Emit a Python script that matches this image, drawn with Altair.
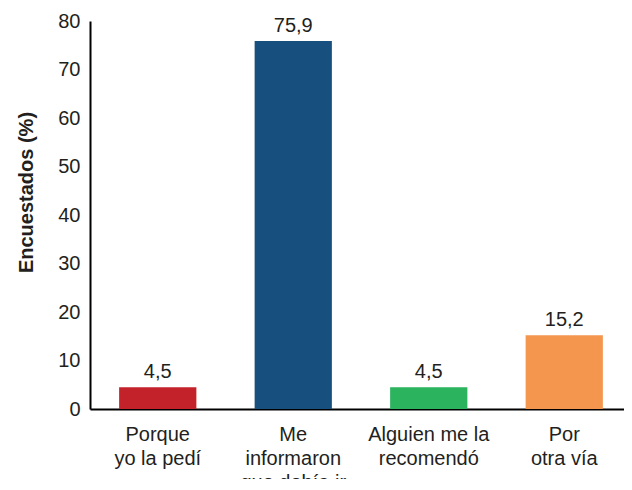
import altair as alt
import pandas as pd

categories = ["Porque\nyo la pedí", "Me\ninformaron\nque debía ir", "Alguien me la\nrecomendó", "Por\notra vía"]
values = [4.5, 75.9, 4.5, 15.2]
value_labels = ["4,5", "75,9", "4,5", "15,2"]
colors = ["#c3222a", "#17507f", "#2bb35d", "#f5964f"]
y_ticks = [0, 10, 20, 30, 40, 50, 60, 70, 80]

df = pd.DataFrame({"cat": categories, "val": values, "lab": value_labels})

FONT = "Liberation Sans"
TXT = "#231f20"

x = alt.X(
    "cat:N",
    sort=categories,
    scale=alt.Scale(paddingInner=0.43, paddingOuter=0.215, range=[0, 542]),
    axis=alt.Axis(
        title=None,
        labelAngle=0,
        labelExpr="split(datum.label, '\\n')",
        labelFont=FONT,
        labelFontSize=20,
        labelColor=TXT,
        labelLineHeight=24,
        labelPadding=15,
        ticks=False,
        tickSize=0,
        domainColor="#000000",
        domainWidth=2,
        labelLimit=300,
    ),
)

bars = alt.Chart(df).mark_bar().encode(
    x=x,
    y=alt.Y(
        "val:Q",
        scale=alt.Scale(domain=[0, 80], nice=False),
        axis=alt.Axis(
            title="Encuestados (%)",
            values=y_ticks,
            grid=False,
            ticks=False,
            tickSize=0,
            labelFont=FONT,
            labelFontSize=20,
            labelColor=TXT,
            labelPadding=10,
            domainColor="#000000",
            domainWidth=2,
            titleFont=FONT,
            titleFontSize=20,
            titleFontWeight="bold",
            titleColor=TXT,
            titleX=-54,
            titleY=171,
        ),
    ),
    color=alt.Color("cat:N", sort=categories, scale=alt.Scale(domain=categories, range=colors), legend=None),
)

text = alt.Chart(df).mark_text(
    font=FONT, fontSize=20, color=TXT, baseline="alphabetic", dy=-9
).encode(
    x=alt.X("cat:N", sort=categories),
    y=alt.Y("val:Q"),
    text="lab:N",
)

chart = (
    alt.layer(bars, text)
    .properties(
        width=534,
        height=388,
        autosize=alt.AutoSizeParams(type="none"),
        padding={"left": 82, "top": 13, "right": 0, "bottom": 70},
    )
    .configure_view(stroke=None)
)

chart.save("out.html", embed_options={"renderer": "svg", "actions": False})
